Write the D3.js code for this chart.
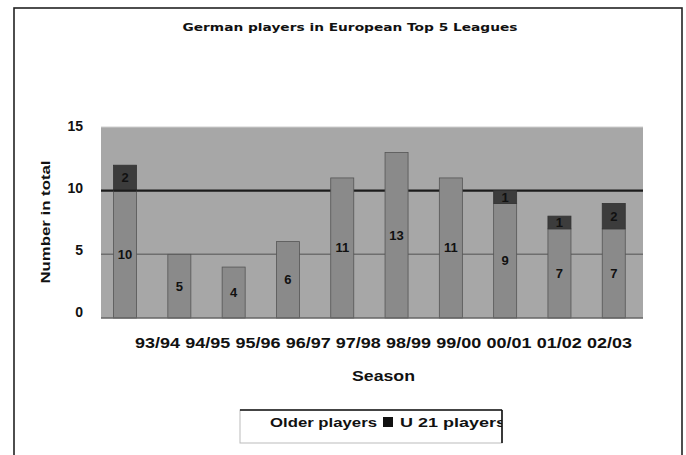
<!DOCTYPE html>
<html>
<head>
<meta charset="utf-8">
<script src="https://cdn.jsdelivr.net/npm/d3@7/dist/d3.min.js"></script>
<style>
  html, body { margin: 0; padding: 0; background: #fff; }
  svg { display: block; }
  text { font-family: "Liberation Sans", Arial, sans-serif; font-weight: bold; fill: #111; }
</style>
</head>
<body>
<svg id="chart" width="686" height="455"></svg>
<script>
// ---- data ----
const seasons = ["93/94","94/95","95/96","96/97","97/98","98/99","99/00","00/01","01/02","02/03"];
const olderPlayers = [10, 5, 4, 6, 11, 13, 11, 9, 7, 7];
const u21Players   = [2, 0, 0, 0, 0, 0, 0, 1, 1, 2];
const yTicks = [0, 5, 10, 15];
const seriesNames = ["Older players", "U 21 players"];
const titleText = "German players in European Top 5 Leagues";
const xTitle = "Season";
const yTitle = "Number in total";

const svg = d3.select("#chart");

// outer frame
svg.append("rect").attr("x", 14).attr("y", 8).attr("width", 668).attr("height", 460)
  .attr("fill", "none").attr("stroke", "#222").attr("stroke-width", 1.6);

// scales
const x = d3.scaleBand().domain(seasons).range([97.9, 640.9]).paddingInner(0.576).paddingOuter(0.288);
const y = d3.scaleLinear().domain([0, 15]).range([318, 127]);
const xLabel = d3.scalePoint().domain(seasons).range([157.5, 609.5]);
const yLabel = d3.scaleLinear().domain([0, 15]).range([312, 126]);

// plot area
const plotX0 = 101, plotX1 = 643;
svg.append("rect").attr("x", plotX0).attr("y", y(15)).attr("width", plotX1 - plotX0).attr("height", y(0) - y(15))
  .attr("fill", "#a7a7a7");
svg.append("line").attr("x1", plotX0).attr("x2", plotX1).attr("y1", y(15)).attr("y2", y(15))
  .attr("stroke", "#cfcfcf").attr("stroke-width", 1);

// gridlines
svg.append("line").attr("x1", plotX0).attr("x2", plotX1).attr("y1", y(5)).attr("y2", y(5))
  .attr("stroke", "#6e6e6e").attr("stroke-width", 1.5);
svg.append("line").attr("x1", plotX0).attr("x2", plotX1).attr("y1", y(10)).attr("y2", y(10))
  .attr("stroke", "#1c1c1c").attr("stroke-width", 2.2);

// bars
const rows = seasons.map((s, i) => ({ s, o: olderPlayers[i], u: u21Players[i] }));
const g = svg.append("g");
g.selectAll("rect.older").data(rows).join("rect").attr("class", "older")
  .attr("x", d => x(d.s)).attr("width", x.bandwidth())
  .attr("y", d => y(d.o)).attr("height", d => y(0) - y(d.o))
  .attr("fill", "#8a8a8a").attr("stroke", "#555").attr("stroke-width", 0.8);
g.selectAll("rect.u21").data(rows.filter(d => d.u > 0)).join("rect").attr("class", "u21")
  .attr("x", d => x(d.s)).attr("width", x.bandwidth())
  .attr("y", d => y(d.o + d.u)).attr("height", d => y(d.o) - y(d.o + d.u))
  .attr("fill", "#3c3c3c").attr("stroke", "#333").attr("stroke-width", 0.8);
// redraw 10-grid where it coincides with a segment boundary
g.selectAll("line.edge").data(rows.filter(d => d.o === 10)).join("line")
  .attr("x1", d => x(d.s)).attr("x2", d => x(d.s) + x.bandwidth())
  .attr("y1", y(10)).attr("y2", y(10)).attr("stroke", "#1c1c1c").attr("stroke-width", 2.2);

// baseline
svg.append("line").attr("x1", plotX0).attr("x2", plotX1).attr("y1", y(0)).attr("y2", y(0))
  .attr("stroke", "#666").attr("stroke-width", 1.5);

// bar value labels
g.selectAll("text.ol").data(rows).join("text").attr("class", "ol")
  .attr("x", d => x(d.s) + x.bandwidth() / 2).attr("y", d => y(d.o / 2))
  .attr("text-anchor", "middle").attr("dominant-baseline", "central")
  .style("font-size", "13px").text(d => d.o);
g.selectAll("text.ul").data(rows.filter(d => d.u > 0)).join("text").attr("class", "ul")
  .attr("x", d => x(d.s) + x.bandwidth() / 2).attr("y", d => y(d.o + d.u / 2))
  .attr("text-anchor", "middle").attr("dominant-baseline", "central")
  .style("font-size", "13px").text(d => d.u);

// y tick labels
svg.selectAll("text.yt").data(yTicks).join("text").attr("class", "yt")
  .attr("x", 83).attr("y", d => yLabel(d)).attr("text-anchor", "end").attr("dominant-baseline", "central")
  .style("font-size", "14px").text(d => d);

// x tick labels
svg.selectAll("text.xt").data(seasons).join("text").attr("class", "xt")
  .attr("x", d => xLabel(d)).attr("y", 342.5).attr("text-anchor", "middle").attr("dominant-baseline", "central")
  .attr("textLength", 45).attr("lengthAdjust", "spacingAndGlyphs")
  .style("font-size", "14px").text(d => d);

// axis titles
svg.append("text").attr("x", 383.5).attr("y", 375).attr("text-anchor", "middle").attr("dominant-baseline", "central")
  .attr("textLength", 63).attr("lengthAdjust", "spacingAndGlyphs")
  .style("font-size", "15px").text(xTitle);
svg.append("text").attr("transform", "translate(45,222) rotate(-90)")
  .attr("text-anchor", "middle").attr("dominant-baseline", "central")
  .attr("textLength", 123).attr("lengthAdjust", "spacingAndGlyphs")
  .style("font-size", "13px").text(yTitle);

// title
svg.append("text").attr("x", 350).attr("y", 27).attr("text-anchor", "middle").attr("dominant-baseline", "central")
  .attr("textLength", 335).attr("lengthAdjust", "spacingAndGlyphs")
  .style("font-family", "'DejaVu Sans', sans-serif").style("font-size", "11px").text(titleText);

// legend
const lg = svg.append("g");
const lx0 = 240, lx1 = 502, ly0 = 410, ly1 = 443;
lg.append("clipPath").attr("id", "lgclip").append("rect")
  .attr("x", lx0).attr("y", ly0).attr("width", lx1 - lx0).attr("height", ly1 - ly0);
lg.append("rect").attr("x", lx0).attr("y", ly0).attr("width", lx1 - lx0).attr("height", ly1 - ly0)
  .attr("fill", "#fff").attr("stroke", "#bbb").attr("stroke-width", 1);
const lt = lg.append("g").attr("clip-path", "url(#lgclip)");
lt.append("text").attr("x", 270).attr("y", 422).attr("dominant-baseline", "central")
  .attr("textLength", 107).attr("lengthAdjust", "spacingAndGlyphs")
  .style("font-size", "13px").text(seriesNames[0]);
lt.append("rect").attr("x", 383).attr("y", 417).attr("width", 10).attr("height", 10).attr("fill", "#111");
lt.append("text").attr("x", 400).attr("y", 422).attr("dominant-baseline", "central")
  .attr("textLength", 106).attr("lengthAdjust", "spacingAndGlyphs")
  .style("font-size", "13px").text(seriesNames[1]);
lg.append("line").attr("x1", lx0).attr("x2", lx1).attr("y1", ly0).attr("y2", ly0).attr("stroke", "#111").attr("stroke-width", 1.6);
lg.append("line").attr("x1", lx1).attr("x2", lx1).attr("y1", ly0).attr("y2", ly1).attr("stroke", "#111").attr("stroke-width", 1.6);
</script>
</body>
</html>
